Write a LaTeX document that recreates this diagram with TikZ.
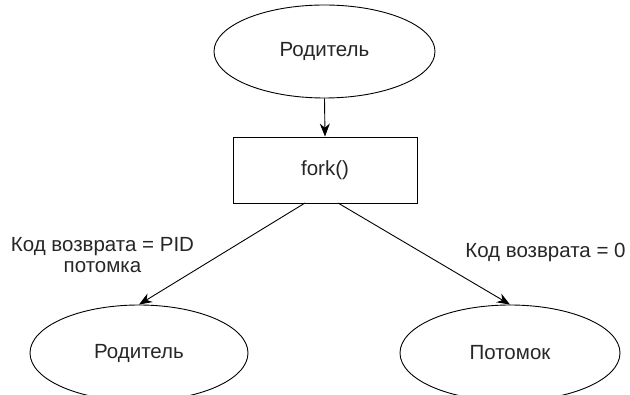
\documentclass[tikz,border=0pt]{standalone}
\usepackage{fontspec}
\setmainfont{Liberation Sans}
\usetikzlibrary{shapes.geometric,arrows.meta}
\begin{document}
\begin{tikzpicture}[x=1pt,y=-1pt,
  every node/.style={font=\fontsize{20.5}{24}\selectfont, text=black!85},
  oval/.style={ellipse, draw, line width=0.9pt, inner sep=0pt},
  forkbox/.style={rectangle, draw, line width=0.9pt, inner sep=0pt, minimum width=184pt, minimum height=66pt},
  conn/.style={line width=0.9pt, -{Stealth[length=13pt,width=10pt]}},
  lbl/.style={align=center, inner sep=0pt}]
\useasboundingbox (0,0) rectangle (630,395);
\node[oval, minimum width=221pt, minimum height=93pt] (top) at (324.5,51.5) {Родитель};
\node[forkbox] (fork) at (325,170) {fork()};
\node[oval, minimum width=218pt, minimum height=96pt] (par) at (139,353) {Родитель};
\node[oval, minimum width=220pt, minimum height=96pt] (chi) at (510,353) {Потомок};
\coordinate (fl) at (305,203);
\coordinate (fr) at (338,203);
\draw[conn] (top.south) -- (fork.north);
\draw[conn] (fl) -- (par.north);
\draw[conn] (fr) -- (chi.north);
\node[lbl] (l1) at (102.5,255) {Код возврата = PID\\[-3pt]потомка};
\node[lbl] (l2) at (545.5,252) {Код возврата = 0};
\end{tikzpicture}
\end{document}
